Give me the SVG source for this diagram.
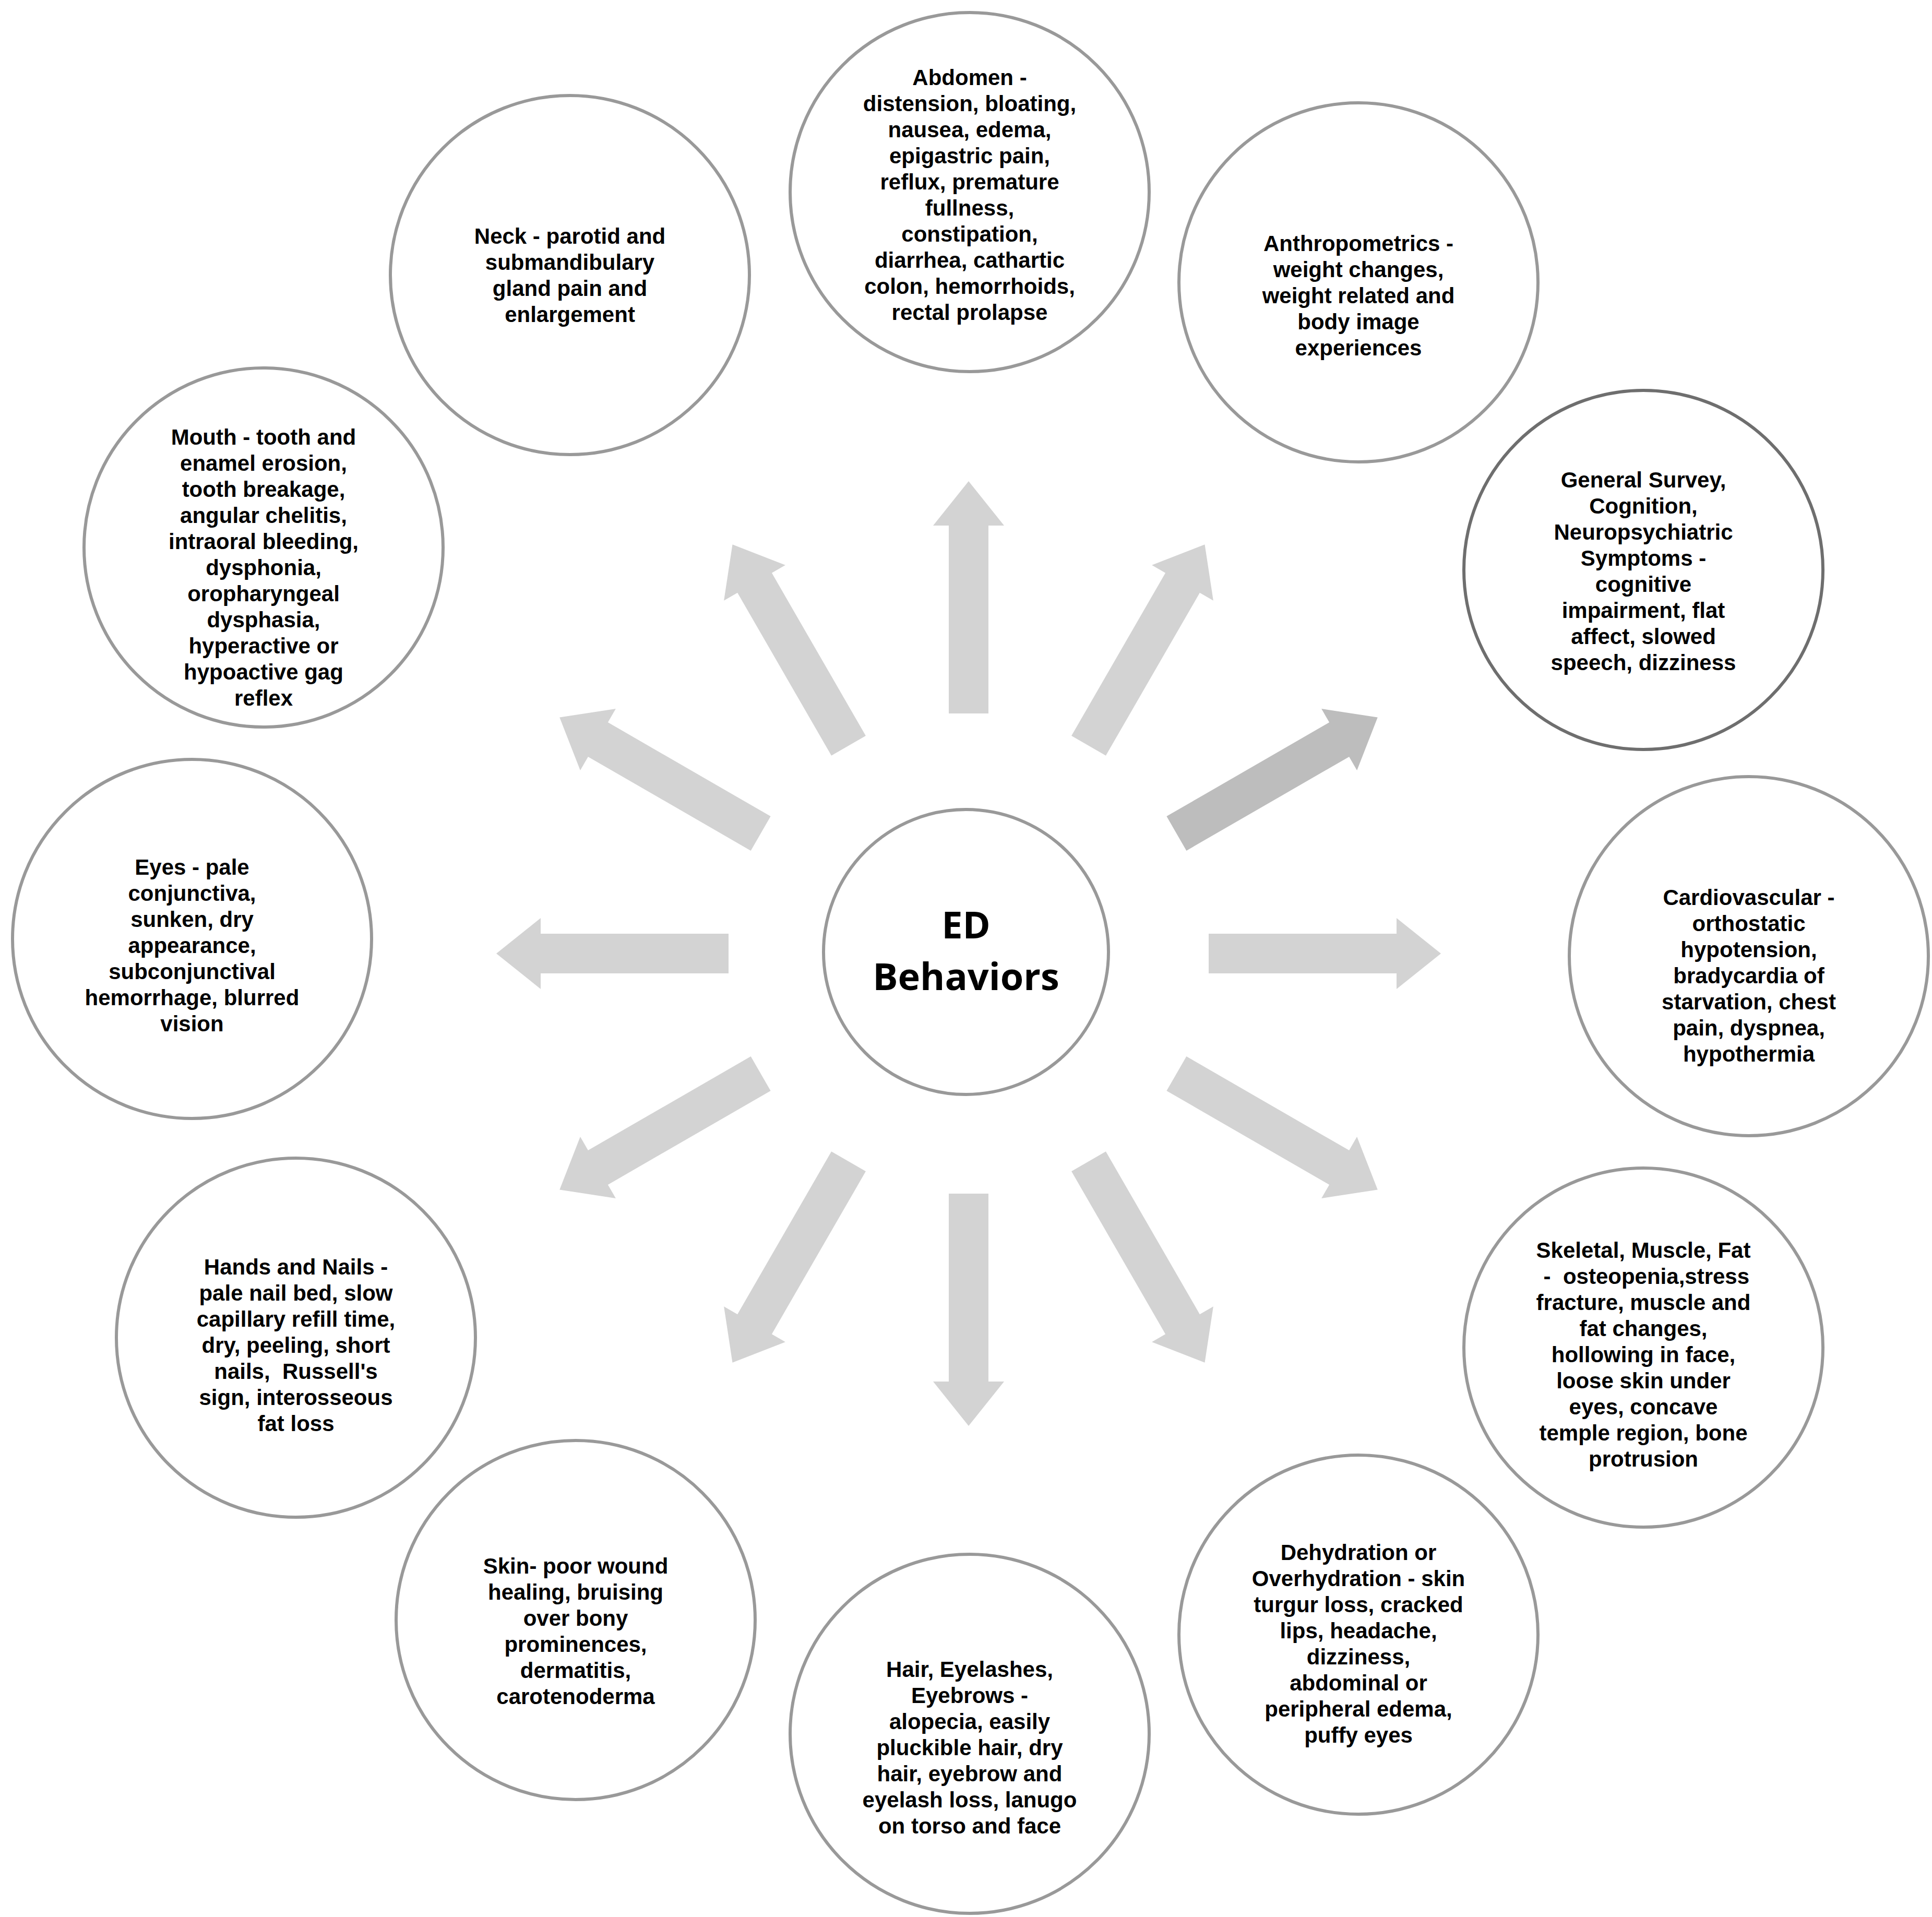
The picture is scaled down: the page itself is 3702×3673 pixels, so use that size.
<svg xmlns="http://www.w3.org/2000/svg" width="3702" height="3673" viewBox="0 0 3702 3673">
<style>
.c{fill:#fff;stroke:#999;stroke-width:6}
.d{stroke:#6e6e6e}
.t{font-family:"Liberation Sans",Arial,sans-serif;font-weight:bold;font-size:42px;fill:#000;text-anchor:middle}
.m{font-family:"Open Sans","DejaVu Sans",sans-serif;font-weight:bold;font-size:72px;fill:#000;text-anchor:middle}
.a{fill:#d3d3d3}
.a2{fill:#bdbdbd}
</style>
<defs><path id="arr" d="M460,-38 H820 V-68 L905,0 L820,68 V38 H460 Z"/></defs>
<rect width="3702" height="3673" fill="#fff"/>
<g id="connectors" transform="translate(1856,1827)">
<use href="#arr" class="a" transform="rotate(0)"/>
<use href="#arr" class="a" transform="rotate(30)"/>
<use href="#arr" class="a" transform="rotate(60)"/>
<use href="#arr" class="a" transform="rotate(90)"/>
<use href="#arr" class="a" transform="rotate(120)"/>
<use href="#arr" class="a" transform="rotate(150)"/>
<use href="#arr" class="a" transform="rotate(180)"/>
<use href="#arr" class="a" transform="rotate(210)"/>
<use href="#arr" class="a" transform="rotate(240)"/>
<use href="#arr" class="a" transform="rotate(270)"/>
<use href="#arr" class="a" transform="rotate(300)"/>
<use href="#arr" class="a2" transform="rotate(330)"/>
</g>
<g id="center"><circle class="c" cx="1851" cy="1824" r="273"/>
<text class="m" x="1851" y="1798">ED</text><text class="m" x="1851" y="1897">Behaviors</text></g>
<g id="neck"><circle class="c" cx="1092" cy="527" r="344"/>
<text class="t" x="1092" y="467"><tspan x="1092">Neck - parotid and</tspan><tspan x="1092" dy="50">submandibulary</tspan><tspan x="1092" dy="50">gland pain and</tspan><tspan x="1092" dy="50">enlargement</tspan></text></g>
<g id="abdomen"><circle class="c" cx="1858" cy="368" r="344"/>
<text class="t" x="1858" y="163"><tspan x="1858">Abdomen -</tspan><tspan x="1858" dy="50">distension, bloating,</tspan><tspan x="1858" dy="50">nausea, edema,</tspan><tspan x="1858" dy="50">epigastric pain,</tspan><tspan x="1858" dy="50">reflux, premature</tspan><tspan x="1858" dy="50">fullness,</tspan><tspan x="1858" dy="50">constipation,</tspan><tspan x="1858" dy="50">diarrhea, cathartic</tspan><tspan x="1858" dy="50">colon, hemorrhoids,</tspan><tspan x="1858" dy="50">rectal prolapse</tspan></text></g>
<g id="anthro"><circle class="c" cx="2603" cy="541" r="344"/>
<text class="t" x="2603" y="481"><tspan x="2603">Anthropometrics -</tspan><tspan x="2603" dy="50">weight changes,</tspan><tspan x="2603" dy="50">weight related and</tspan><tspan x="2603" dy="50">body image</tspan><tspan x="2603" dy="50">experiences</tspan></text></g>
<g id="general"><circle class="c d" cx="3149" cy="1092" r="344"/>
<text class="t" x="3149" y="934"><tspan x="3149">General Survey,</tspan><tspan x="3149" dy="50">Cognition,</tspan><tspan x="3149" dy="50">Neuropsychiatric</tspan><tspan x="3149" dy="50">Symptoms  -</tspan><tspan x="3149" dy="50">cognitive</tspan><tspan x="3149" dy="50">impairment, flat</tspan><tspan x="3149" dy="50">affect, slowed</tspan><tspan x="3149" dy="50">speech, dizziness</tspan></text></g>
<g id="cardio"><circle class="c" cx="3351" cy="1832" r="344"/>
<text class="t" x="3351" y="1734"><tspan x="3351">Cardiovascular -</tspan><tspan x="3351" dy="50">orthostatic</tspan><tspan x="3351" dy="50">hypotension,</tspan><tspan x="3351" dy="50">bradycardia of</tspan><tspan x="3351" dy="50">starvation, chest</tspan><tspan x="3351" dy="50">pain, dyspnea,</tspan><tspan x="3351" dy="50">hypothermia</tspan></text></g>
<g id="skeletal"><circle class="c" cx="3149" cy="2582" r="344"/>
<text class="t" x="3149" y="2410" xml:space="preserve"><tspan x="3149">Skeletal, Muscle, Fat</tspan><tspan x="3149" dy="50"> -  osteopenia,stress</tspan><tspan x="3149" dy="50">fracture, muscle and</tspan><tspan x="3149" dy="50">fat changes,</tspan><tspan x="3149" dy="50">hollowing in face,</tspan><tspan x="3149" dy="50">loose skin under</tspan><tspan x="3149" dy="50">eyes, concave</tspan><tspan x="3149" dy="50">temple region, bone</tspan><tspan x="3149" dy="50">protrusion</tspan></text></g>
<g id="dehyd"><circle class="c" cx="2603" cy="3132" r="344"/>
<text class="t" x="2603" y="2989"><tspan x="2603">Dehydration or</tspan><tspan x="2603" dy="50">Overhydration - skin</tspan><tspan x="2603" dy="50">turgur loss, cracked</tspan><tspan x="2603" dy="50">lips, headache,</tspan><tspan x="2603" dy="50">dizziness,</tspan><tspan x="2603" dy="50">abdominal or</tspan><tspan x="2603" dy="50">peripheral edema,</tspan><tspan x="2603" dy="50">puffy eyes</tspan></text></g>
<g id="hair"><circle class="c" cx="1858" cy="3322" r="344"/>
<text class="t" x="1858" y="3213"><tspan x="1858">Hair, Eyelashes,</tspan><tspan x="1858" dy="50">Eyebrows -</tspan><tspan x="1858" dy="50">alopecia, easily</tspan><tspan x="1858" dy="50">pluckible hair, dry</tspan><tspan x="1858" dy="50">hair, eyebrow and</tspan><tspan x="1858" dy="50">eyelash loss, lanugo</tspan><tspan x="1858" dy="50">on torso and face</tspan></text></g>
<g id="skin"><circle class="c" cx="1103" cy="3104" r="344"/>
<text class="t" x="1103" y="3015"><tspan x="1103">Skin- poor wound</tspan><tspan x="1103" dy="50">healing, bruising</tspan><tspan x="1103" dy="50">over bony</tspan><tspan x="1103" dy="50">prominences,</tspan><tspan x="1103" dy="50">dermatitis,</tspan><tspan x="1103" dy="50">carotenoderma</tspan></text></g>
<g id="hands"><circle class="c" cx="567" cy="2563" r="344"/>
<text class="t" x="567" y="2442" xml:space="preserve"><tspan x="567">Hands and Nails -</tspan><tspan x="567" dy="50">pale nail bed, slow</tspan><tspan x="567" dy="50">capillary refill time,</tspan><tspan x="567" dy="50">dry, peeling, short</tspan><tspan x="567" dy="50">nails,  Russell's</tspan><tspan x="567" dy="50">sign, interosseous</tspan><tspan x="567" dy="50">fat loss</tspan></text></g>
<g id="eyes"><circle class="c" cx="368" cy="1799" r="344"/>
<text class="t" x="368" y="1676"><tspan x="368">Eyes - pale</tspan><tspan x="368" dy="50">conjunctiva,</tspan><tspan x="368" dy="50">sunken, dry</tspan><tspan x="368" dy="50">appearance,</tspan><tspan x="368" dy="50">subconjunctival</tspan><tspan x="368" dy="50">hemorrhage, blurred</tspan><tspan x="368" dy="50">vision</tspan></text></g>
<g id="mouth"><circle class="c" cx="505" cy="1049" r="344"/>
<text class="t" x="505" y="852"><tspan x="505">Mouth - tooth and</tspan><tspan x="505" dy="50">enamel erosion,</tspan><tspan x="505" dy="50">tooth breakage,</tspan><tspan x="505" dy="50">angular chelitis,</tspan><tspan x="505" dy="50">intraoral bleeding,</tspan><tspan x="505" dy="50">dysphonia,</tspan><tspan x="505" dy="50">oropharyngeal</tspan><tspan x="505" dy="50">dysphasia,</tspan><tspan x="505" dy="50">hyperactive or</tspan><tspan x="505" dy="50">hypoactive gag</tspan><tspan x="505" dy="50">reflex</tspan></text></g>
</svg>
